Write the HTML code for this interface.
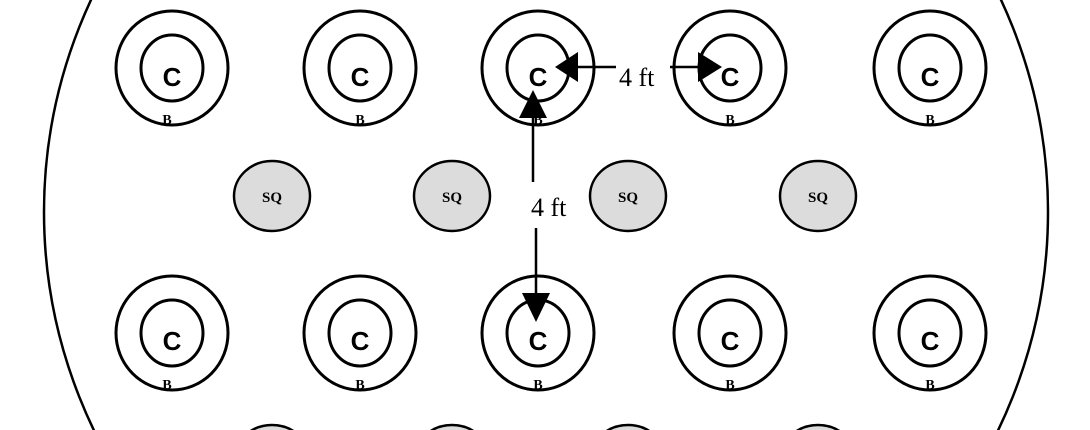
<!DOCTYPE html>
<html><head><style>html,body{margin:0;background:#fff;width:1090px;height:430px;overflow:hidden}svg{display:block}</style></head><body>
<svg width="1090" height="430" viewBox="0 0 1090 430" xmlns="http://www.w3.org/2000/svg">
<circle cx="546" cy="212" r="502" fill="none" stroke="#000" stroke-width="2.5"/>
<g fill="none" stroke="#000" stroke-width="3">
<ellipse cx="172" cy="68" rx="56" ry="57"/><ellipse cx="172" cy="68" rx="31" ry="33"/>
<ellipse cx="360" cy="68" rx="56" ry="57"/><ellipse cx="360" cy="68" rx="31" ry="33"/>
<ellipse cx="538" cy="68" rx="56" ry="57"/><ellipse cx="538" cy="68" rx="31" ry="33"/>
<ellipse cx="730" cy="68" rx="56" ry="57"/><ellipse cx="730" cy="68" rx="31" ry="33"/>
<ellipse cx="930" cy="68" rx="56" ry="57"/><ellipse cx="930" cy="68" rx="31" ry="33"/>
<ellipse cx="172" cy="333" rx="56" ry="57"/><ellipse cx="172" cy="333" rx="31" ry="33"/>
<ellipse cx="360" cy="333" rx="56" ry="57"/><ellipse cx="360" cy="333" rx="31" ry="33"/>
<ellipse cx="538" cy="333" rx="56" ry="57"/><ellipse cx="538" cy="333" rx="31" ry="33"/>
<ellipse cx="730" cy="333" rx="56" ry="57"/><ellipse cx="730" cy="333" rx="31" ry="33"/>
<ellipse cx="930" cy="333" rx="56" ry="57"/><ellipse cx="930" cy="333" rx="31" ry="33"/>
</g>
<g fill="#dcdcdc" stroke="#000" stroke-width="2.5">
<ellipse cx="272" cy="196" rx="38" ry="35"/><ellipse cx="452" cy="196" rx="38" ry="35"/>
<ellipse cx="628" cy="196" rx="38" ry="35"/><ellipse cx="818" cy="196" rx="38" ry="35"/>
<ellipse cx="272" cy="460" rx="38" ry="35"/><ellipse cx="452" cy="460" rx="38" ry="35"/>
<ellipse cx="628" cy="460" rx="38" ry="35"/><ellipse cx="818" cy="460" rx="38" ry="35"/>
</g>
<g font-family="Liberation Serif, serif" font-weight="bold" font-size="15" text-anchor="middle">
<text x="272" y="202">SQ</text><text x="452" y="202">SQ</text><text x="628" y="202">SQ</text><text x="818" y="202">SQ</text>
</g>
<g font-family="Liberation Sans, sans-serif" font-weight="bold" font-size="26" text-anchor="middle">
<text x="172" y="86">C</text><text x="360" y="86">C</text><text x="538" y="86">C</text><text x="730" y="86">C</text><text x="930" y="86">C</text>
<text x="172" y="350">C</text><text x="360" y="350">C</text><text x="538" y="350">C</text><text x="730" y="350">C</text><text x="930" y="350">C</text>
</g>
<g font-family="Liberation Serif, serif" font-weight="bold" font-size="14" text-anchor="middle">
<text x="167" y="124">B</text><text x="360" y="124">B</text><text x="538" y="124">B</text><text x="730" y="124">B</text><text x="930" y="124">B</text>
<text x="167" y="389">B</text><text x="360" y="389">B</text><text x="538" y="389">B</text><text x="730" y="389">B</text><text x="930" y="389">B</text>
</g>
<g stroke="#000" stroke-width="2.5">
<line x1="575" y1="67" x2="616" y2="67"/><line x1="670" y1="67" x2="700" y2="67"/>
<line x1="533" y1="117" x2="533" y2="182"/><line x1="536" y1="228" x2="536" y2="295"/>
</g>
<g fill="#000">
<polygon points="555,67 578,52 578,82"/>
<polygon points="722,67 698,52 698,82"/>
<polygon points="533,90 519,118 547,118"/>
<polygon points="536,322 522,293 550,293"/>
</g>
<g font-family="Liberation Serif, serif" font-size="26">
<text x="619" y="86">4 ft</text><text x="531" y="216">4 ft</text>
</g>
</svg>
</body></html>
